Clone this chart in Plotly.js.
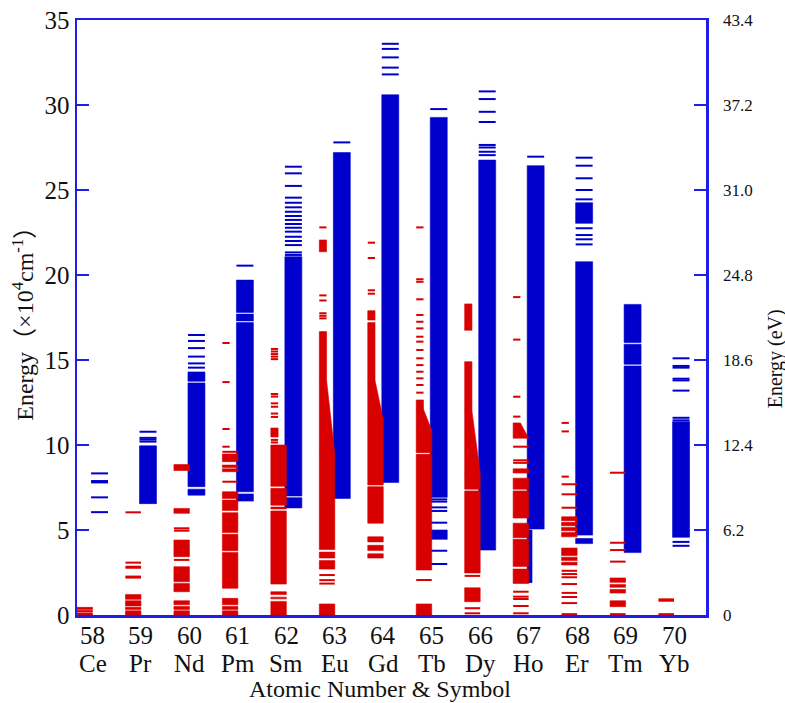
<!DOCTYPE html>
<html>
<head>
<meta charset="utf-8">
<script src="https://cdn.plot.ly/plotly-3.0.1.min.js"></script>
<style>
  html, body { margin: 0; padding: 0; background: #fff; }
  #chart { width: 785px; height: 703px; }
</style>
</head>
<body>
<div id="chart"></div>
<script>
// Lanthanide ions, Ce (58) to Yb (70)
const atomicNumbers = [58, 59, 60, 61, 62, 63, 64, 65, 66, 67, 68, 69, 70];
const symbols = ['Ce', 'Pr', 'Nd', 'Pm', 'Sm', 'Eu', 'Gd', 'Tb', 'Dy', 'Ho', 'Er', 'Tm', 'Yb'];

// Left axis: energy in 10^4 cm^-1; right axis: the same span in eV
const energyTicks = [0, 5, 10, 15, 20, 25, 30, 35];
const eVTicks = [0, 6.2, 12.4, 18.6, 24.8, 31.0, 37.2, 43.4];
const eVTickLabels = ['0', '6.2', '12.4', '18.6', '24.8', '31.0', '37.2', '43.4'];

// ---- 4f^n levels (red), energies in 10^4 cm^-1, one list per ion ----
// single levels across the full column
const fnLevels = [
  [],
  [2.2, 2.26, 2.78, 2.84, 3.08, 6.04],
  [3.24, 4.96, 5.1],
  [7.84, 9.6],
  [],
  [1.85, 2.05, 2.35],
  [],
  [2.06],
  [0.1, 0.4, 2.3],
  [0.1, 0.53, 0.94, 1.08, 1.37, 8.95, 9.1, 9.9],
  [0.05, 0.7, 1.06, 1.3, 1.82, 2.22, 2.41, 2.6, 6.31, 7.1, 7.69],
  [0.05, 3.14, 3.82, 4.25, 8.37],
  [0.05, 0.84, 0.92]
];
// ranges so dense that the levels merge into a block
const fnBands = [
  [[0, 0.12], [0.17, 0.28], [0.33, 0.45]],
  [[0, 0.25], [0.33, 0.45], [0.53, 0.84], [0.92, 1.2]],
  [[0, 0.25], [0.33, 0.5], [0.6, 0.84], [1.37, 1.85], [1.95, 2.84], [3.43, 4.41], [5.98, 6.27], [8.5, 8.85]],
  [[0, 0.25], [0.33, 0.5], [0.6, 0.98], [1.57, 3.68], [3.78, 4.75], [4.85, 6.02], [6.15, 6.76], [6.86, 7.25], [8.43, 8.6], [8.68, 8.82], [9.02, 9.47]],
  [[0, 0.8], [0.95, 1.05], [1.2, 1.37], [1.82, 6.12], [6.24, 6.35], [6.46, 7.45], [7.57, 10.0]],
  [[0, 0.65], [2.7, 3.2], [3.35, 3.7], [3.85, 9.5]],
  [[3.35, 3.6], [3.8, 4.1], [4.3, 4.6], [5.4, 7.55], [7.65, 11.5]],
  [[0, 0.65], [2.65, 9.45], [9.55, 10.85]],
  [[0.78, 1.6], [2.47, 7.3], [7.4, 8.35]],
  [[1.85, 2.7], [2.85, 4.45], [4.55, 5.4], [5.7, 7.3], [7.4, 8.05], [8.35, 8.6]],
  [[2.94, 3.1], [3.2, 3.4], [3.5, 3.94], [4.6, 4.85], [4.95, 5.15], [5.25, 5.45], [5.55, 5.78]],
  [[0.49, 0.84], [1.29, 1.5], [1.63, 1.8], [1.92, 2.18]],
  []
];
// dense ranges that thin out towards the top
const fnWedges = [
  [], [], [], [], [],
  [[9.5, 13.8]],
  [[11.5, 13.8]],
  [[10.85, 12.1]],
  [[8.35, 12.0]],
  [[10.4, 11.3]],
  [], [], []
];
// sparse upper levels, drawn as short dashes
const fnShortLevels = [
  [], [], [],
  [9.9, 10.94, 13.7, 16.0],
  [10.15, 10.3, 11.65, 11.85, 12.25, 12.45, 12.85, 13.0, 15.05, 15.2, 15.35, 15.5, 15.65],
  [17.45, 17.6, 17.75, 18.5, 18.8, 22.8],
  [18.9, 19.1, 21.0, 21.9],
  [13.08, 13.53, 13.92, 14.31, 14.7, 15.1, 15.59, 16.08, 16.37, 16.86, 17.25, 17.65, 18.57, 19.6, 19.75, 22.8],
  [],
  [11.67, 12.84, 16.2, 18.7],
  [8.14, 10.8, 11.3],
  [], []
];
const fnShortBands = [
  [], [], [], [],
  [[10.47, 11.0]],
  [[13.8, 16.67], [21.37, 22.06]],
  [[13.8, 17.2], [17.35, 17.9]],
  [[12.1, 12.65]],
  [[12.0, 14.9], [16.75, 18.3]],
  [], [], [], []
];

// ---- 4f^(n-1)5d levels (blue) ----
const fdLevels = [
  [6.05, 6.92, 7.8, 7.88, 8.33],
  [10.2, 10.32, 10.42, 10.78],
  [14.55, 14.8, 15.2, 15.7, 16.12, 16.47],
  [20.55],
  [21.18, 21.33, 21.76, 22.0, 22.25, 22.55, 22.78, 23.0, 23.24, 23.47, 23.72, 23.98, 24.25, 24.55, 25.24, 25.98, 26.37],
  [27.8],
  [31.8, 32.2, 32.8, 33.3, 33.6],
  [3.0, 3.78, 5.43, 6.12, 6.33, 6.67, 6.8, 29.76],
  [27.05, 27.25, 27.5, 27.65, 29.0, 29.6, 30.35, 30.8],
  [26.96],
  [21.8, 22.1, 22.35, 22.75, 24.45, 25.0, 25.69, 26.43, 26.9],
  [],
  [4.07, 4.3, 11.45, 11.6, 13.2, 13.8, 13.9, 14.55, 14.65, 15.1]
];
const fdBands = [
  [],
  [[6.55, 9.95]],
  [[7.05, 7.4], [7.55, 13.65], [13.75, 14.3]],
  [[6.7, 7.12], [7.25, 17.2], [17.3, 17.7], [17.8, 19.7]],
  [[6.3, 6.9], [7.0, 21.08]],
  [[6.86, 27.2]],
  [[7.8, 30.6]],
  [[4.45, 5.0], [6.92, 29.27]],
  [[3.82, 26.76]],
  [[5.06, 26.43]],
  [[4.2, 4.5], [4.7, 20.78], [23.04, 24.25]],
  [[3.67, 14.65], [14.75, 15.93], [16.03, 18.27]],
  [[4.57, 11.37]]
];
const fdShortBands = [
  [], [], [], [], [], [], [], [], [],
  [[1.9, 5.0]],
  [], [], []
];

// ---- drawing ----
const RED = '#d80000';
const BLUE = '#0000cc';
const FRAME = '#1e1ee6';
const SERIF = 'Liberation Serif, Times New Roman, serif';
const INK = '#111';

// column placement relative to the atomic number
const redSpan = [-0.32, 0.0];
const blueSpan = [-0.03, 0.32];
const shortLen = 0.15;
const stubLen = 0.1;

function rect(z, span, lo, hi) {
  return [[z + span[0], lo], [z + span[1], lo], [z + span[1], hi], [z + span[0], hi]];
}
function wedge(z, span, lo, hi) {
  return [[z + span[0], lo], [z + span[1], lo], [z + span[0] + shortLen, hi], [z + span[0], hi]];
}
function polyTrace(polys, color) {
  const x = [], y = [];
  polys.forEach(p => {
    p.forEach(([a, b]) => { x.push(a); y.push(b); });
    x.push(p[0][0]); y.push(p[0][1]);
    x.push(null); y.push(null);
  });
  return { type: 'scatter', mode: 'lines', x, y, fill: 'toself', fillcolor: color,
           line: { color, width: 0.6 }, hoverinfo: 'skip', showlegend: false };
}
function levelTrace(segs, color, width) {
  const x = [], y = [];
  segs.forEach(([x0, x1, e]) => { x.push(x0, x1, null); y.push(e, e, null); });
  return { type: 'scatter', mode: 'lines', x, y, line: { color, width },
           hoverinfo: 'skip', showlegend: false };
}

const bluePolys = [], blueSegs = [];
const redPolys = [], redSegs = [];
atomicNumbers.forEach((z, i) => {
  fdBands[i].forEach(([lo, hi]) => bluePolys.push(rect(z, blueSpan, lo, hi)));
  fdShortBands[i].forEach(([lo, hi]) => bluePolys.push(rect(z, [blueSpan[0], blueSpan[0] + stubLen], lo, hi)));
  fdLevels[i].forEach(e => blueSegs.push([z + blueSpan[0], z + blueSpan[1], e]));

  fnBands[i].forEach(([lo, hi]) => redPolys.push(rect(z, redSpan, lo, hi)));
  fnWedges[i].forEach(([lo, hi]) => redPolys.push(wedge(z, redSpan, lo, hi)));
  fnShortBands[i].forEach(([lo, hi]) => redPolys.push(rect(z, [redSpan[0], redSpan[0] + shortLen], lo, hi)));
  fnLevels[i].forEach(e => redSegs.push([z + redSpan[0], z + redSpan[1], e]));
  fnShortLevels[i].forEach(e => redSegs.push([z + redSpan[0], z + redSpan[0] + shortLen, e]));
});

const traces = [
  polyTrace(bluePolys, BLUE),
  levelTrace(blueSegs, BLUE, 2),
  polyTrace(redPolys, RED),
  levelTrace(redSegs, RED, 2),
  // anchors the eV axis
  { type: 'scatter', mode: 'markers', x: [atomicNumbers[0]], y: [0], yaxis: 'y2',
    marker: { opacity: 0 }, hoverinfo: 'skip', showlegend: false }
];

// category labels under the axis: atomic number, then symbol
const labelNotes = [];
atomicNumbers.forEach((z, i) => {
  labelNotes.push({ text: String(z), x: z, xref: 'x', y: 0, yref: 'paper',
    yshift: -20, xanchor: 'center', yanchor: 'middle', showarrow: false,
    font: { family: SERIF, size: 25, color: INK } });
  labelNotes.push({ text: symbols[i], x: z, xref: 'x', y: 0, yref: 'paper',
    yshift: -48, xanchor: 'center', yanchor: 'middle', showarrow: false,
    font: { family: SERIF, size: 25, color: INK } });
});
// eV tick labels, set a little away from the right frame
eVTicks.forEach((v, i) => {
  labelNotes.push({ text: eVTickLabels[i], x: 1, xref: 'paper', y: v, yref: 'y2',
    xshift: 15, xanchor: 'left', yanchor: 'middle', showarrow: false,
    font: { family: SERIF, size: 17, color: INK } });
});

const layout = {
  width: 785, height: 703,
  margin: { l: 77, r: 79, t: 20, b: 88 },
  paper_bgcolor: '#fff', plot_bgcolor: '#fff',
  showlegend: false,
  font: { family: SERIF, color: INK },
  xaxis: {
    range: [57.68, 70.66],
    showticklabels: false,
    ticks: '', showgrid: false, zeroline: false,
    showline: true, mirror: true, linecolor: FRAME, linewidth: 2.5
  },
  yaxis: {
    range: [0, 35],
    tickvals: energyTicks,
    ticks: 'inside', ticklen: 12, tickwidth: 2, tickcolor: FRAME,
    showgrid: false, zeroline: false,
    showline: true, mirror: true, linecolor: FRAME, linewidth: 2.5,
    tickfont: { family: SERIF, size: 25, color: INK }
  },
  yaxis2: {
    overlaying: 'y', side: 'right',
    range: [0, 43.4],
    tickvals: eVTicks,
    showticklabels: false,
    ticks: 'inside', ticklen: 12, tickwidth: 2, tickcolor: FRAME,
    showgrid: false, zeroline: false,
    showline: true, linecolor: FRAME, linewidth: 2.5
  },
  annotations: labelNotes.concat([
    { text: 'Atomic Number &amp; Symbol', xref: 'paper', yref: 'paper',
      x: 0.4817, y: 0, yshift: -74, xanchor: 'center', yanchor: 'middle',
      showarrow: false, font: { family: SERIF, size: 24, color: INK } },
    { text: 'Energy（×10<sup>4</sup>cm<sup>-1</sup>）', xref: 'paper', yref: 'paper',
      x: -0.087, y: 0.5, xanchor: 'center', yanchor: 'middle', textangle: -90,
      showarrow: false, font: { family: 'Liberation Serif, Noto Sans CJK SC, serif', size: 24, color: INK } },
    { text: 'Energy (eV)', xref: 'paper', yref: 'paper',
      x: 1.11, y: 0.43, xanchor: 'center', yanchor: 'middle', textangle: -90,
      showarrow: false, font: { family: SERIF, size: 20, color: INK } }
  ])
};

Plotly.newPlot('chart', traces, layout, { staticPlot: true, displayModeBar: false });
</script>
</body>
</html>
